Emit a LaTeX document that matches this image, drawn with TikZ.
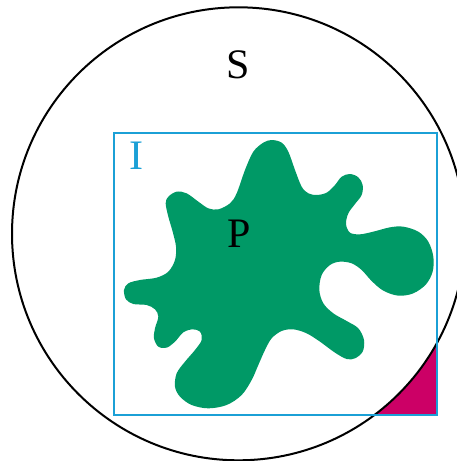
\documentclass[tikz,border=0pt]{standalone}
\usepackage{fontspec}
\setmainfont{Liberation Serif}
\definecolor{blobgreen}{HTML}{009966}
\definecolor{rectcyan}{HTML}{1BA0D6}
\definecolor{cornermag}{HTML}{CC0066}
\tikzset{
  lbl/.style={font=\fontsize{42}{42}\selectfont, inner sep=0pt},
}
\begin{document}
\begin{tikzpicture}[x=1pt,y=-1pt]
\useasboundingbox (0,0) rectangle (457,461);
% corner region outside circle, inside rectangle
\begin{scope}
  \clip (114,132.7) rectangle (436.7,415);
  \fill[cornermag, even odd rule] (114,132.7) rectangle (436.7,415) (238.5,233.8) circle[radius=226.5];
\end{scope}
% blob P
\begin{scope}[x=0.33333pt,y=-0.33333pt]
\fill[blobgreen] plot[smooth cycle, tension=0.55] coordinates {
(710,580) (735,510) (760,455) (790,428) (815,420) (845,428) (865,455) (885,510) (905,560) (925,580) (950,585) (980,578) (1005,555) (1025,530) (1050,522) (1075,532) (1088,555) (1085,585) (1065,612) (1045,640) (1038,672) (1050,698) (1080,703) (1120,695) (1170,682) (1210,680) (1255,695) (1285,725) (1300,770) (1298,815) (1278,853) (1240,880) (1195,887) (1150,872) (1115,843) (1085,810) (1055,790) (1020,785) (990,795) (965,825) (958,870) (970,910) (1000,940) (1040,963) (1075,985) (1092,1020) (1088,1055) (1065,1075) (1040,1077) (1005,1058) (960,1025) (920,1000) (880,988) (845,993) (815,1015) (795,1050) (775,1095) (755,1140) (725,1185) (680,1215) (625,1225) (575,1215) (540,1190) (525,1160) (530,1120) (555,1085) (585,1050) (605,1020) (600,995) (578,988) (550,997) (525,1025) (500,1043) (475,1040) (462,1015) (465,985) (475,950) (465,928) (440,915) (400,912) (378,898) (372,870) (385,850) (420,840) (470,833) (505,815) (525,780) (528,740) (518,695) (505,650) (497,610) (505,590) (530,575) (560,580) (595,605) (625,625) (655,628) (690,610)
};
\end{scope}
% circle S
\draw[line width=2pt] (238.5,233.8) circle[radius=226.5];
% rectangle I
\draw[rectcyan, line width=2pt] (114,132.7) rectangle (436.7,415);
% labels
\node[lbl] (S) at (238,65) {S};
\node[lbl, text=rectcyan] (I) at (136.5,156) {I};
\node[lbl] (P) at (239,234) {P};
\end{tikzpicture}
\end{document}
